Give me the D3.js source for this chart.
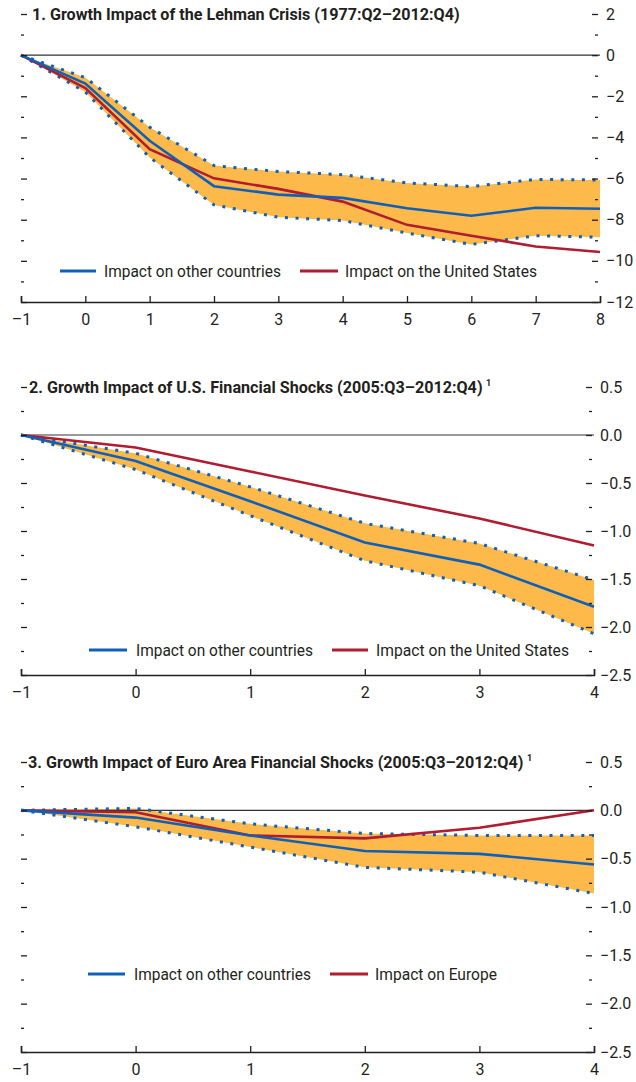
<!DOCTYPE html>
<html lang="en">
<head>
<meta charset="utf-8">
<title>Growth impact of financial shocks</title>
<script src="https://d3js.org/d3.v7.min.js"></script>
<style>
  body { margin: 0; background: #fff; }
  svg text { font-family: "Liberation Sans Narrow", "Roboto", sans-serif; fill: #231f20; }
</style>
</head>
<body>
<div id="chart"></div>
<script>
// quarters after the shock
var quarters1 = [-1, 0, 1, 2, 3, 4, 5, 6, 7, 8];
var quarters2 = [-1, 0, 1, 2, 3, 4];

// panel 1: Lehman crisis
var lehmanOther = [0, -1.38, -4.16, -6.37, -6.78, -6.94, -7.44, -7.81, -7.42, -7.47];
var lehmanUS    = [0, -1.6, -4.57, -5.99, -6.5, -7.12, -8.25, -8.78, -9.3, -9.57];
var lehmanUpper = [0, -1.09, -3.5, -5.37, -5.66, -5.81, -6.21, -6.39, -6.04, -6.07];
var lehmanLower = [0, -1.79, -4.97, -7.28, -7.88, -8.04, -8.65, -9.2, -8.78, -8.85];

// panel 2: U.S. financial shocks
var usOther = [0, -0.27, -0.69, -1.12, -1.35, -1.79];
var usUS    = [0, -0.13, -0.38, -0.63, -0.87, -1.15];
var usUpper = [0, -0.19, -0.54, -0.92, -1.13, -1.51];
var usLower = [0, -0.36, -0.84, -1.31, -1.57, -2.07];

// panel 3: euro area financial shocks
var euroOther  = [0, -0.075, -0.26, -0.42, -0.45, -0.56];
var euroEurope = [0, -0.02, -0.26, -0.29, -0.18, 0];
var euroUpper  = [0, 0.02, -0.14, -0.24, -0.26, -0.26];
var euroLower  = [0, -0.17, -0.38, -0.59, -0.64, -0.86];

var yTicks1 = [2, 0, -2, -4, -6, -8, -10, -12];
var yTicks2 = [0.5, 0, -0.5, -1, -1.5, -2, -2.5];

var titles = [
  "1. Growth Impact of the Lehman Crisis (1977:Q2\u20132012:Q4)",
  "2. Growth Impact of U.S. Financial Shocks (2005:Q3\u20132012:Q4)",
  "3. Growth Impact of Euro Area Financial Shocks (2005:Q3\u20132012:Q4)"
];
var legendOther = "Impact on other countries";
var legendOwn = ["Impact on the United States", "Impact on the United States", "Impact on Europe"];

var blue = "#1060b8", red = "#b01c30", band = "#fdba4b", ink = "#231f20";

var w = 636, h = 1082;
var svg = d3.select("#chart").append("svg").attr("width", w).attr("height", h);

function minus(s) { return s.replace("-", "\u2013"); }

var panels = [
  { x: quarters1, other: lehmanOther, own: lehmanUS, upper: lehmanUpper, lower: lehmanLower,
    ticks: yTicks1, minorStep: 1, fmt: d3.format("d"), zero: "#333",
    top: 14, bottom: 302, left: 21, right: 600,
    title: titles[0], titleX: 32, titleW: 428, sup: false,
    own_label: legendOwn[0], legY: 271, leg: [60, 96, 104, 177, 300, 338, 345, 192] },
  { x: quarters2, other: usOther, own: usUS, upper: usUpper, lower: usLower,
    ticks: yTicks2, minorStep: 0.25, fmt: d3.format(".1f"), zero: "#777",
    top: 387, bottom: 675, left: 21, right: 594,
    title: titles[1], titleX: 29, titleW: 454, sup: true,
    own_label: legendOwn[1], legY: 650, leg: [89, 127, 136, 177, 332, 368, 376, 193] },
  { x: quarters2, other: euroOther, own: euroEurope, upper: euroUpper, lower: euroLower,
    ticks: yTicks2, minorStep: 0.25, fmt: d3.format(".1f"), zero: "#333",
    top: 762, bottom: 1052, left: 21, right: 594,
    title: titles[2], titleX: 28, titleW: 496, sup: true,
    own_label: legendOwn[2], legY: 974, leg: [88, 125, 134, 177, 330, 368, 375, 122] }
];

panels.forEach(function(p) {
  var g = svg.append("g");
  var yMax = d3.max(p.ticks), yMin = d3.min(p.ticks);
  var x = d3.scaleLinear().domain(d3.extent(p.x)).range([p.left, p.right]);
  var y = d3.scaleLinear().domain([yMax, yMin]).range([p.top, p.bottom]);

  var minor = d3.range(yMax, yMin - 1e-9, -p.minorStep).filter(function(v) {
    return p.ticks.every(function(t) { return Math.abs(t - v) > 1e-9; });
  });

  // band
  var pts = p.x.map(function(q, i) { return { q: q, hi: p.upper[i], lo: p.lower[i] }; });
  g.append("path").datum(pts)
    .attr("fill", band)
    .attr("d", d3.area().x(function(d) { return x(d.q); })
      .y0(function(d) { return y(d.lo); }).y1(function(d) { return y(d.hi); }));

  // zero line
  g.append("line")
    .attr("x1", x.range()[0]).attr("x2", x.range()[1])
    .attr("y1", y(0)).attr("y2", y(0))
    .attr("stroke", p.zero).attr("stroke-width", 1.3);

  // band edges (dotted)
  [p.upper, p.lower].forEach(function(s) {
    g.append("path").datum(s)
      .attr("fill", "none").attr("stroke", blue).attr("stroke-width", 3)
      .attr("stroke-dasharray", "3,7.6")
      .attr("d", d3.line().x(function(d, i) { return x(p.x[i]); }).y(function(d) { return y(d); }));
  });

  var line = d3.line().x(function(d, i) { return x(p.x[i]); }).y(function(d) { return y(d); });
  g.append("path").datum(p.own).attr("fill", "none").attr("stroke", red)
    .attr("stroke-width", 2.6).attr("d", line);
  g.append("path").datum(p.other).attr("fill", "none").attr("stroke", blue)
    .attr("stroke-width", 2.6).attr("d", line);

  // left ticks
  g.append("g").attr("transform", "translate(" + p.left + ",0)")
    .call(d3.axisLeft(y).tickValues(p.ticks).tickSize(-6).tickFormat(""))
    .call(function(a) { a.select(".domain").remove(); });
  g.append("g").attr("transform", "translate(" + p.left + ",0)")
    .call(d3.axisLeft(y).tickValues(minor).tickSize(-3).tickFormat(""))
    .call(function(a) { a.select(".domain").remove(); });

  // right ticks and labels
  var rx = p.right - 2;
  g.append("g").attr("transform", "translate(" + rx + ",0)")
    .call(d3.axisRight(y).tickValues(p.ticks).tickSize(-6).tickPadding(8)
      .tickFormat(function(d) { return minus(p.fmt(d)); }))
    .call(function(a) { a.select(".domain").remove(); });
  g.append("g").attr("transform", "translate(" + rx + ",0)")
    .call(d3.axisRight(y).tickValues(minor).tickSize(-3).tickFormat(""))
    .call(function(a) { a.select(".domain").remove(); });

  // x axis
  g.append("g").attr("transform", "translate(0," + p.bottom + ")")
    .call(d3.axisBottom(x).tickValues(p.x).tickSize(-6).tickPadding(12)
      .tickFormat(function(d) { return minus(String(d)); }));

  g.selectAll(".tick line").attr("stroke", ink).attr("stroke-width", 1.3);
  g.selectAll(".domain").attr("stroke", ink).attr("stroke-width", 1.5);
  g.selectAll(".tick text").attr("font-size", 16).attr("fill", ink)
    .style("font-family", "'Liberation Sans Narrow', Roboto, sans-serif");

  // title: squeeze horizontally to the condensed width of the original
  var tg = g.append("g");
  var t = tg.append("text").attr("x", 0).attr("y", 0)
    .attr("font-size", 16.5).attr("font-weight", "bold").text(p.title);
  var sx = p.titleW / t.node().getComputedTextLength();
  tg.attr("transform", "translate(" + p.titleX + "," + (p.top + 6) + ") scale(" + sx + ",1)");
  if (p.sup) {
    g.append("text").attr("x", p.titleX + p.titleW + 3).attr("y", p.top - 1)
      .attr("font-size", 9).attr("font-weight", "bold").text("1");
  }

  // legend
  var L = p.leg;
  g.append("line").attr("x1", L[0]).attr("x2", L[1]).attr("y1", p.legY).attr("y2", p.legY)
    .attr("stroke", blue).attr("stroke-width", 2.8);
  g.append("text").attr("x", L[2]).attr("y", p.legY + 6).attr("font-size", 16.5)
    .attr("textLength", L[3]).attr("lengthAdjust", "spacingAndGlyphs").text(legendOther);
  g.append("line").attr("x1", L[4]).attr("x2", L[5]).attr("y1", p.legY).attr("y2", p.legY)
    .attr("stroke", red).attr("stroke-width", 2.8);
  g.append("text").attr("x", L[6]).attr("y", p.legY + 6).attr("font-size", 16.5)
    .attr("textLength", L[7]).attr("lengthAdjust", "spacingAndGlyphs").text(p.own_label);
});
</script>
</body>
</html>
